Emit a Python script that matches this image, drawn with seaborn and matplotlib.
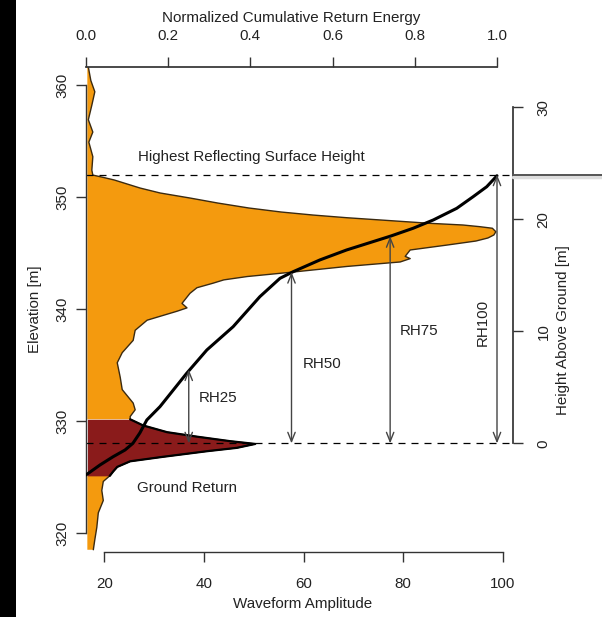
import numpy as np
import pandas as pd
import matplotlib
matplotlib.use("Agg")
import matplotlib.pyplot as plt
import seaborn as sns
from matplotlib.lines import Line2D
from matplotlib.patches import Rectangle

# ---------------- data ----------------
# waveform profile, top to bottom: elevation [m] and amplitude
elevation = [361.6, 360.4, 359.4, 358.2, 356.9, 355.8, 354.9, 353.6, 352.4,
             351.96, 351.74, 351.52, 351.16, 350.80, 350.36, 349.91, 349.46, 349.02,
             348.66, 348.39, 348.15, 347.95, 347.65, 347.5, 347.35, 347.21, 346.90,
             346.61, 346.34, 346.07, 345.71, 345.27, 344.7, 344.5, 344.2, 343.8,
             343.3, 342.9, 342.6, 342.3, 341.9, 341.4, 340.5, 340.1, 339.8, 339.0,
             338.1, 337.2, 336.1, 335.2, 333.9, 332.8, 331.6, 331.0, 330.4, 330.15,
             329.6, 329.0, 328.6, 328.2, 327.95, 327.6, 327.3, 326.8, 326.4, 325.9,
             325.5, 325.1,
             324.6, 323.8, 322.9, 321.8, 320.5, 319.4, 318.5]
amplitude = [16.8, 17.3, 18.1, 17.5, 16.8, 17.7, 16.9, 17.7, 17.5,
             17.7, 19.9, 22.0, 24.6, 27.2, 31.2, 37.2, 42.8, 49.0,
             55.5, 61.9, 68.7, 75.4, 85.4, 92.0, 95.4, 97.9, 98.6,
             98.2, 97.0, 94.6, 88.8, 81.4, 80.4, 81.4, 79.4, 68.7,
             57.9, 48.7, 44.0, 41.8, 38.6, 37.2, 35.6, 36.6, 34.6, 28.6,
             26.2, 25.8, 23.6, 22.6, 23.2, 23.6, 25.8, 26.2, 25.2, 25.2,
             27.8, 32.6, 38.6, 45.2, 50.3, 46.6, 40.6, 31.8, 25.2, 22.6,
             21.8, 21.1,
             19.8, 19.5, 19.8, 18.8, 18.5, 18.1, 17.8]
ground_top = 330.15
ground_bottom = 325.1
baseline_amp = 16.6

# normalized cumulative return energy vs elevation
cum_elevation = [325.18, 326.07, 326.81, 327.41, 328.0, 328.93, 330.09, 331.28,
                 334.26, 336.34, 338.42, 341.10, 342.74, 343.33, 344.38, 345.27,
                 346.52, 347.21, 347.95, 348.99, 350.03, 350.92, 351.9]
cum_energy = [0.0, 0.034, 0.066, 0.095, 0.114, 0.131, 0.148, 0.180,
              0.245, 0.294, 0.358, 0.423, 0.472, 0.504, 0.569, 0.634,
              0.742, 0.796, 0.845, 0.902, 0.942, 0.975, 1.0]

ground_elevation = 328.0
highest_elevation = 352.0
rh_names = ["RH25", "RH50", "RH75", "RH100"]
rh_energy = [0.25, 0.50, 0.74, 1.00]
rh_height = [6.6, 15.3, 18.5, 24.0]

amp_ticks = [20, 40, 60, 80, 100]
elev_ticks = [320, 330, 340, 350, 360]
energy_ticks = [0.0, 0.2, 0.4, 0.6, 0.8, 1.0]
energy_labels = ["0.0", "0.2", "0.4", "0.6", "0.8", "1.0"]
height_ticks = [0, 10, 20, 30]

# ---------------- style ----------------
sns.set_theme(style="white")
plt.rcParams['font.family'] = ['Liberation Sans', 'DejaVu Sans']
TXT = '#222222'
AXC = '#333333'
ORANGE = '#F49A0E'
DARKRED = '#8A1B1B'
FS = 10.9

W, H = 602, 617
fig = plt.figure(figsize=(W / 100, H / 100), dpi=100)
fig.patch.set_facecolor('white')

ax = fig.add_axes([86 / W, 65 / H, 427 / W, 485 / H])
ax.set_facecolor('none')

df = pd.DataFrame({"elevation": elevation, "amplitude": amplitude})
el = df["elevation"].to_numpy()
am = df["amplitude"].to_numpy()
gmask = (el <= ground_top) & (el >= ground_bottom)
cmask = ~((el < ground_top) & (el > ground_bottom))

ax.fill_betweenx(el, baseline_amp, am, where=cmask, color=ORANGE, lw=0)
ax.fill_betweenx(el, baseline_amp, am, where=gmask, color=DARKRED, lw=0)
ax.plot(am, el, color='#3b2a10', lw=1.0, solid_joinstyle='round')
ax.plot(am[gmask], el[gmask], color='black', lw=1.6, solid_joinstyle='round')

ax.set_xlim(16.33, 102.04)
ax.set_ylim(318.30, 361.61)

for e in [ground_elevation, highest_elevation]:
    ax.axhline(e, color='black', lw=0.9, ls=(0, (5.6, 4.8)))

# spines / ticks of main axes
for s in ['top', 'right']:
    ax.spines[s].set_visible(False)
for s in ['left', 'bottom']:
    ax.spines[s].set_color(AXC)
    ax.spines[s].set_linewidth(1.0)
    ax.spines[s].set_visible(True)
ax.spines['bottom'].set_bounds(20, 100)
ax.spines['left'].set_bounds(320, 360)
ax.set_xticks(amp_ticks)
ax.set_yticks(elev_ticks)
ax.tick_params(axis='x', bottom=True, top=False, length=7, width=1, color=AXC,
               pad=11, labelsize=FS, labelcolor=TXT)
ax.tick_params(axis='y', left=True, right=False, length=7, width=1, color=AXC,
               pad=5, labelsize=FS, labelcolor=TXT)
for lbl in ax.get_yticklabels():
    lbl.set_rotation(90)
    lbl.set_va('center')
ax.grid(False)

# cumulative energy axis (top)
axc = ax.twiny()
axc.set_facecolor('none')
sns.lineplot(x=cum_energy, y=cum_elevation, sort=False, estimator=None,
             color='black', lw=2.2, ax=axc)
axc.set_xlim(0, 427 / 411)
axc.set_ylim(318.30, 361.61)
for s in ['bottom', 'left', 'right']:
    axc.spines[s].set_visible(False)
axc.spines['top'].set_visible(True)
axc.spines['top'].set_color(AXC)
axc.spines['top'].set_bounds(0, 1)
axc.set_xticks(energy_ticks)
axc.set_xticklabels(energy_labels)
axc.tick_params(axis='x', top=True, bottom=False, labeltop=True, labelbottom=False,
                length=7, width=1, color=AXC, pad=10, labelsize=FS, labelcolor=TXT)
axc.tick_params(axis='y', left=False, right=False, labelleft=False, labelright=False)
axc.set_xlabel('')
axc.set_ylabel('')
axc.grid(False)

for name, c, h in zip(rh_names, rh_energy, rh_height):
    axc.annotate('', xy=(c, ground_elevation + h), xytext=(c, ground_elevation),
                 arrowprops=dict(arrowstyle='<->,head_length=0.55,head_width=0.22',
                                 color='#444444', lw=1.0, shrinkA=0, shrinkB=0,
                                 mutation_scale=12))

# height above ground axis (right)
axh = ax.twinx()
axh.set_facecolor('none')
axh.set_ylim(318.30 - ground_elevation, 361.61 - ground_elevation)
for s in ['bottom', 'left', 'top']:
    axh.spines[s].set_visible(False)
axh.spines['right'].set_visible(True)
axh.spines['right'].set_color(AXC)
axh.spines['right'].set_bounds(0, 30)
axh.set_yticks(height_ticks)
axh.tick_params(axis='y', right=True, left=False, labelright=True, labelleft=False,
                length=7, width=1, color=AXC, pad=10, labelsize=FS, labelcolor=TXT)
for lbl in axh.get_yticklabels():
    lbl.set_rotation(90)
    lbl.set_va('center')
axh.grid(False)

# annotations (in amplitude / elevation coordinates)
ax.text(49.46, 353.57, "Highest Reflecting Surface Height", ha='center', va='center',
        fontsize=FS, color=TXT)
ax.text(36.6, 324.0, "Ground Return", ha='center', va='center', fontsize=FS, color=TXT)
rh_text_pos = [(42.9, 332.05, 0), (63.7, 335.09, 0), (83.2, 338.04, 0), (96.0, 338.84, 90)]
for name, (x, y, rot) in zip(rh_names, rh_text_pos):
    ax.text(x, y, name, ha='center', va='center', rotation=rot, fontsize=FS, color=TXT)

# axis titles
fig.text(291 / W, 1 - 18 / H, "Normalized Cumulative Return Energy", ha='center',
         va='center', fontsize=FS, color=TXT)
fig.text(303 / W, 1 - 604 / H, "Waveform Amplitude", ha='center', va='center',
         fontsize=FS, color=TXT)
fig.text(35 / W, 1 - 309 / H, "Elevation [m]", ha='center', va='center', rotation=90,
         fontsize=FS, color=TXT)
fig.text(563 / W, 1 - 330 / H, "Height Above Ground [m]", ha='center', va='center',
         rotation=90, fontsize=FS, color=TXT)

# black band at left edge and grey line at right edge (photo artefacts)
fig.add_artist(Rectangle((0, 0), 16 / W, 1, transform=fig.transFigure,
                         color='black', lw=0))
fig.add_artist(Line2D([513 / W, 1], [1 - 177 / H, 1 - 177 / H], transform=fig.transFigure,
                      color='#dddddd', lw=2.5))
fig.add_artist(Line2D([513 / W, 1], [1 - 175 / H, 1 - 175 / H], transform=fig.transFigure,
                      color='#555555', lw=1.4))

fig.savefig('out.png', dpi=100)
